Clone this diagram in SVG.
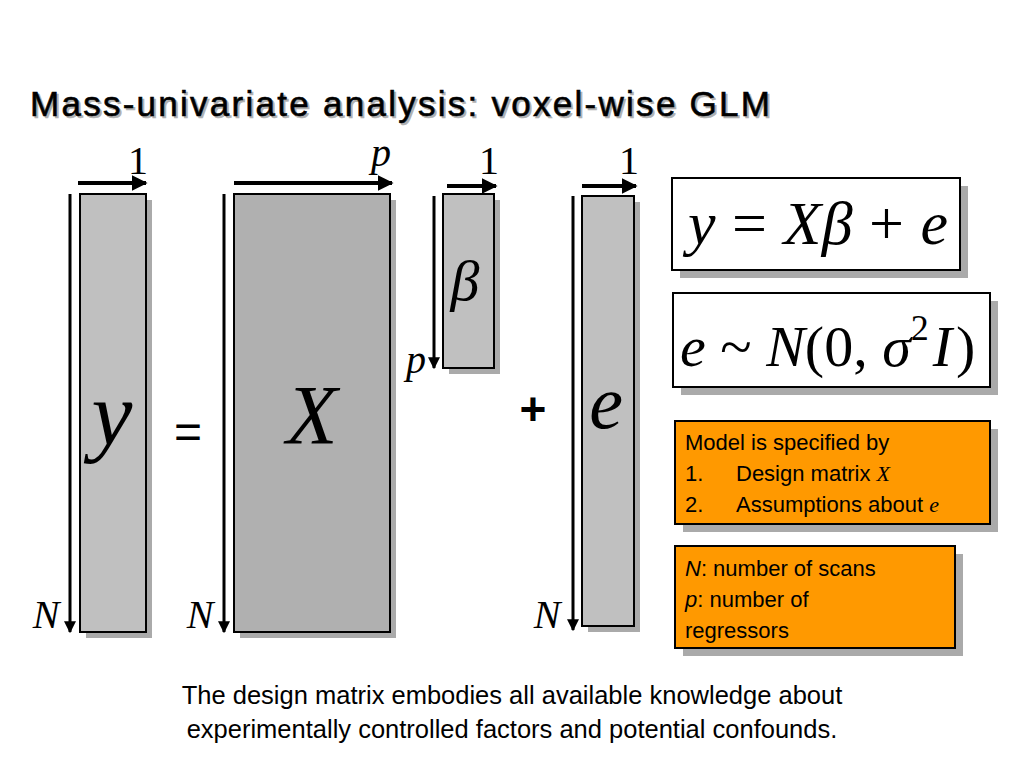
<svg xmlns="http://www.w3.org/2000/svg" width="1024" height="768" viewBox="0 0 1024 768">
<defs>
<marker id="ah" viewBox="0 0 10 10" refX="9" refY="5" markerWidth="4" markerHeight="4" orient="auto" markerUnits="strokeWidth"><path d="M0,0 L10,5 L0,10 z" fill="#000"/></marker>
</defs>
<style>
.m{font-family:"Liberation Serif",serif;font-style:italic;fill:#000}
.r{font-family:"Liberation Serif",serif;fill:#000}
.s{font-family:"Liberation Sans",Arial,sans-serif;fill:#000}
.sh{fill:#aaa}
.ln{stroke:#000;stroke-width:3;fill:none}
.tl{stroke:#000;stroke-width:4;fill:none}
.mat{stroke:#000;stroke-width:2}
</style>
<rect width="1024" height="768" fill="#fff"/>
<text x="32" y="118" class="s" font-size="35" style="fill:#b0b0b0" stroke="#b0b0b0" stroke-width="0.6" textLength="740">Mass-univariate analysis: voxel-wise GLM</text>
<text x="30" y="116" class="s" font-size="35" stroke="#000" stroke-width="0.6" textLength="740">Mass-univariate analysis: voxel-wise GLM</text>
<g id="y-matrix">
<rect x="86" y="200" width="66" height="438" class="sh"/>
<rect x="80" y="194" width="66" height="438" fill="#c0c0c0" class="mat"/>
<text x="112" y="445" class="m" font-size="92" text-anchor="middle">y</text>
</g>
<g id="X-matrix">
<rect x="240" y="200" width="156" height="438" class="sh"/>
<rect x="234" y="194" width="156" height="438" fill="#b0b0b0" class="mat"/>
<text x="312" y="444" class="m" font-size="84" text-anchor="middle">X</text>
</g>
<g id="beta-matrix">
<rect x="449" y="200" width="51" height="174" class="sh"/>
<rect x="443" y="194" width="51" height="174" fill="#c0c0c0" class="mat"/>
<text x="465" y="300" class="m" font-size="58" text-anchor="middle">β</text>
</g>
<g id="e-matrix">
<rect x="588" y="202" width="52" height="430" class="sh"/>
<rect x="582" y="196" width="52" height="430" fill="#c0c0c0" class="mat"/>
<text x="606" y="428" class="m" font-size="76" text-anchor="middle">e</text>
</g>
<g id="operators">
<text x="188" y="448" class="s" font-size="48" text-anchor="middle">=</text>
<text x="533" y="425" class="s" font-size="46" font-weight="bold" text-anchor="middle">+</text>
</g>
<g id="connectors">
<line x1="70" y1="194" x2="70" y2="632" class="ln" marker-end="url(#ah)"/>
<line x1="78" y1="183" x2="146" y2="183" class="tl" marker-end="url(#ah)"/>
<line x1="224" y1="194" x2="224" y2="632" class="ln" marker-end="url(#ah)"/>
<line x1="234" y1="183" x2="392" y2="183" class="tl" marker-end="url(#ah)"/>
<line x1="434" y1="196" x2="434" y2="368" class="ln" marker-end="url(#ah)"/>
<line x1="447" y1="186" x2="496" y2="186" class="tl" marker-end="url(#ah)"/>
<line x1="573" y1="196" x2="573" y2="630" class="ln" marker-end="url(#ah)"/>
<line x1="582" y1="186" x2="636" y2="186" class="tl" marker-end="url(#ah)"/>
</g>
<g id="dim-labels">
<text x="138" y="174" class="r" font-size="40" text-anchor="middle">1</text>
<text x="381" y="166" class="m" font-size="40" text-anchor="middle">p</text>
<text x="489" y="174" class="r" font-size="40" text-anchor="middle">1</text>
<text x="629" y="174" class="r" font-size="40" text-anchor="middle">1</text>
<text x="416" y="373" class="m" font-size="40" text-anchor="middle">p</text>
<text x="46" y="628" class="m" font-size="40" text-anchor="middle">N</text>
<text x="200" y="628" class="m" font-size="40" text-anchor="middle">N</text>
<text x="547" y="628" class="m" font-size="40" text-anchor="middle">N</text>
</g>
<g id="eq1">
<rect x="680" y="186" width="288" height="92" class="sh"/>
<rect x="672" y="178" width="288" height="92" fill="#fff" class="mat"/>
<text x="688" y="244" class="m" font-size="62" textLength="260">y <tspan class="r" font-style="normal">=</tspan> Xβ <tspan font-style="normal">+</tspan> e</text>
</g>
<g id="eq2">
<rect x="681" y="301" width="317" height="94" class="sh"/>
<rect x="673" y="293" width="317" height="94" fill="#fff" class="mat"/>
<text x="680" y="366" class="m" font-size="58">e <tspan font-style="normal">~</tspan> N<tspan font-style="normal">(0, </tspan>σ<tspan font-style="normal" font-size="36" dy="-26">2</tspan><tspan dy="26" dx="4">I</tspan><tspan font-style="normal" dx="4">)</tspan></text>
</g>
<g id="model-box">
<rect x="683" y="429" width="315" height="103" class="sh"/>
<rect x="675" y="421" width="315" height="103" fill="#ff9900" class="mat"/>
<text x="685" y="450" class="s" font-size="22">Model is specified by</text>
<text x="685" y="481" class="s" font-size="22">1.</text>
<text x="736" y="481" class="s" font-size="22">Design matrix <tspan class="m" font-size="22">X</tspan></text>
<text x="685" y="512" class="s" font-size="22">2.</text>
<text x="736" y="512" class="s" font-size="22">Assumptions about <tspan class="m" font-size="22">e</tspan></text>
</g>
<g id="def-box">
<rect x="683" y="554" width="280" height="102" class="sh"/>
<rect x="675" y="546" width="280" height="102" fill="#ff9900" class="mat"/>
<text x="685" y="576" class="s" font-size="22"><tspan font-style="italic">N</tspan>: number of scans</text>
<text x="685" y="607" class="s" font-size="22"><tspan font-style="italic">p</tspan>: number of</text>
<text x="685" y="638" class="s" font-size="22">regressors</text>
</g>
<g id="caption">
<text x="512" y="704" class="s" font-size="25.5" text-anchor="middle">The design matrix embodies all available knowledge about</text>
<text x="512" y="738" class="s" font-size="25.5" text-anchor="middle">experimentally controlled factors and potential confounds.</text>
</g>
</svg>
